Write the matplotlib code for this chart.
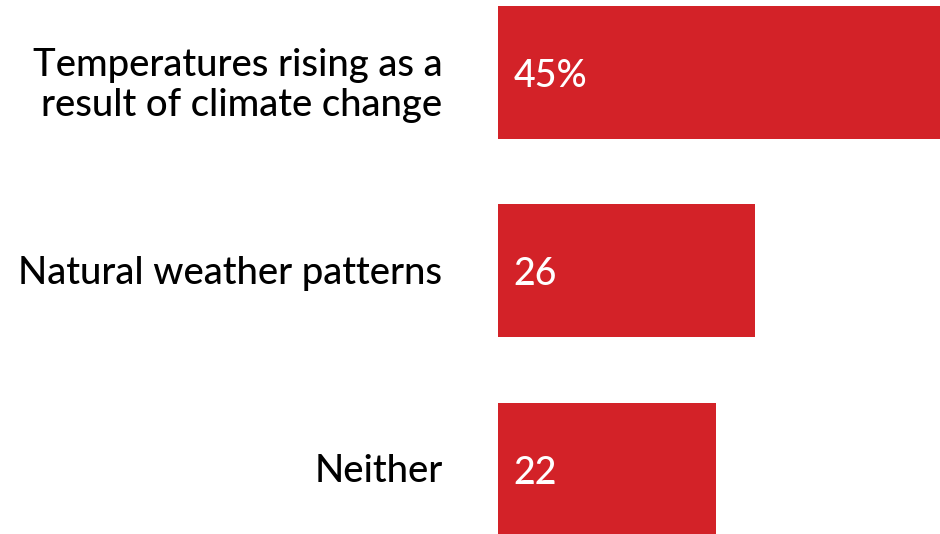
import matplotlib.pyplot as plt

# data
categories = ['Temperatures rising as a\nresult of climate change',
              'Natural weather patterns',
              'Neither']
values = [45, 26, 22]
value_labels = ['45%', '26', '22']

bar_color = '#D32228'

plt.rcParams['font.family'] = ['Lato', 'DejaVu Sans']

fig = plt.figure(figsize=(9.4, 5.34), dpi=100)
# axes starts where the bars start (x=498px), runs to right edge
ax = fig.add_axes([498 / 940, 0, 1 - 498 / 940, 1])

ypos = list(range(len(categories)))
ax.barh(ypos, values, height=0.67, color=bar_color)

ax.set_xlim(0, 442 / 9.9)
ax.set_ylim(2.325, -0.365)

for y, lab in zip(ypos, value_labels):
    ax.text(1.6, y + 0.02, lab, color='white', fontsize=27,
            fontweight='medium', va='center', ha='left')

# category labels to the left of the bars
for y, cat in zip(ypos, categories):
    dy = -9.5 if '\n' in cat else -1.5
    ax.annotate(cat, xy=(0, y), xytext=(-40, dy), textcoords='offset points',
                ha='right', va='center', fontsize=27.5, fontweight='medium',
                linespacing=1.2, annotation_clip=False)

ax.set_xticks([])
ax.set_yticks([])
for spine in ax.spines.values():
    spine.set_visible(False)

fig.savefig('out.png', dpi=100)
